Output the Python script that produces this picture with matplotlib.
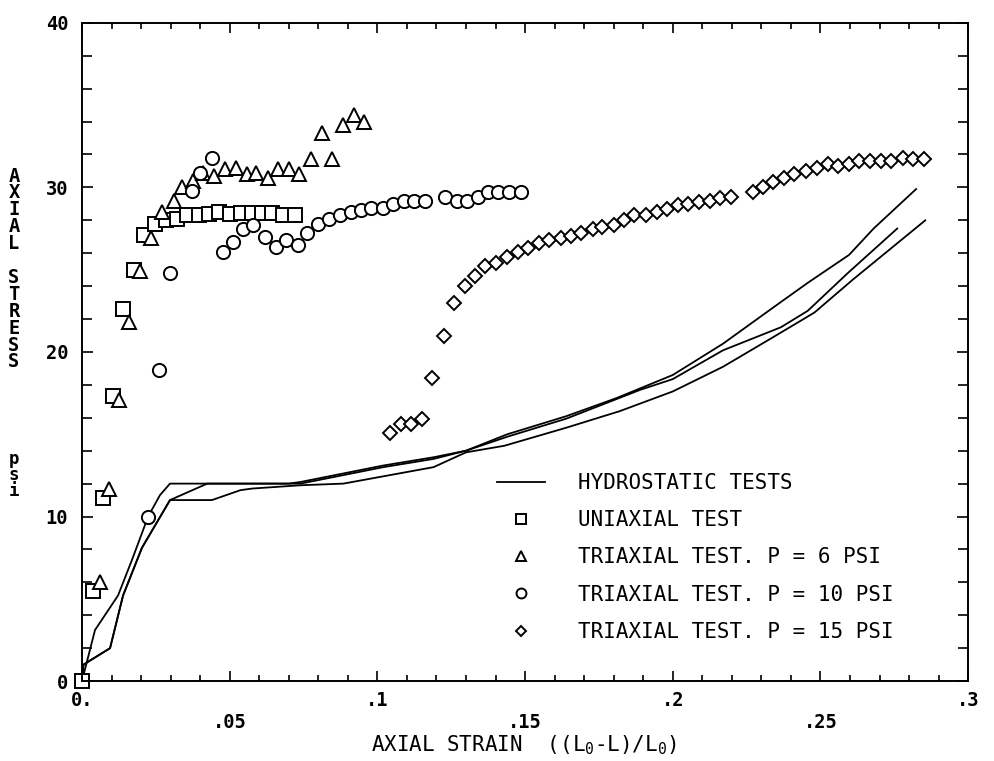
import numpy as np
import matplotlib.pyplot as plt
from matplotlib.ticker import MultipleLocator

plt.rcParams['font.family'] = ['DejaVu Sans Mono']
plt.rcParams['mathtext.fontset'] = 'custom'
plt.rcParams['mathtext.rm'] = 'DejaVu Sans Mono'
plt.rcParams['mathtext.it'] = 'DejaVu Sans Mono'

# hydrostatic tests, three runs
hyd1_strain = [0, 0.0044, 0.0122, 0.017, 0.0224, 0.0264, 0.0298, 0.05, 0.07, 0.074,
               0.102, 0.119, 0.13, 0.144, 0.164, 0.181, 0.2, 0.217, 0.234, 0.2457,
               0.2597, 0.268, 0.2824]
hyd1_stress = [0, 3.1, 5.2, 7.4, 10.0, 11.3, 12.0, 12.0, 12.0, 12.1,
               13.1, 13.6, 14.0, 15.0, 16.1, 17.2, 18.6, 20.5, 22.7, 24.2,
               25.9, 27.5, 29.9]
hyd2_strain = [0, 0.0005, 0.0095, 0.0139, 0.0203, 0.0298, 0.0424, 0.06, 0.074,
               0.102, 0.119, 0.13, 0.144, 0.164, 0.189, 0.2, 0.217, 0.2366,
               0.2457, 0.2593, 0.276]
hyd2_stress = [0, 1.0, 2.0, 5.2, 8.1, 11.0, 12.0, 12.0, 12.0,
               13.0, 13.5, 14.0, 14.85, 15.95, 17.7, 18.35, 20.1, 21.5,
               22.5, 24.8, 27.5]
hyd3_strain = [0, 0.0005, 0.0095, 0.0139, 0.0203, 0.0298, 0.044, 0.0536, 0.0576,
               0.074, 0.0885, 0.119, 0.13, 0.143, 0.164, 0.182, 0.2, 0.217, 0.234,
               0.248, 0.261, 0.2855]
hyd3_stress = [0, 1.0, 2.0, 5.2, 8.1, 11.0, 11.0, 11.6, 11.7,
               11.9, 12.0, 13.0, 13.9, 14.3, 15.4, 16.4, 17.6, 19.1, 20.9,
               22.4, 24.4, 28.0]

# uniaxial test
uni_strain = [0.0, 0.0036, 0.0071, 0.0105, 0.0139, 0.0176, 0.021, 0.0247, 0.0285,
              0.032, 0.0356, 0.0397, 0.043, 0.0464, 0.050, 0.054, 0.0576, 0.061,
              0.0644, 0.068, 0.072]
uni_stress = [0.0, 5.5, 11.1, 17.3, 22.6, 25.0, 27.1, 27.8, 28.0,
              28.1, 28.3, 28.3, 28.4, 28.5, 28.4, 28.45, 28.45, 28.45,
              28.45, 28.3, 28.3]

# triaxial, P = 6 psi
tri6_strain = [0.0061, 0.0092, 0.0125, 0.016, 0.0197, 0.0234, 0.027, 0.031, 0.034,
               0.0376, 0.041, 0.0447, 0.0485, 0.052, 0.056, 0.059, 0.063, 0.0665,
               0.070, 0.0736, 0.0776, 0.0814, 0.0847, 0.0885, 0.092, 0.0955]
tri6_stress = [6.0, 11.7, 17.1, 21.8, 24.9, 26.9, 28.5, 29.2, 30.0,
               30.4, 30.9, 30.7, 31.1, 31.2, 30.8, 30.9, 30.6, 31.1,
               31.1, 30.8, 31.7, 33.3, 31.7, 33.8, 34.4, 34.0]

# triaxial, P = 10 psi
tri10_strain = [0.0224, 0.026, 0.0298, 0.0372, 0.040, 0.044, 0.0478, 0.051, 0.0546,
                0.058, 0.062, 0.0658, 0.069, 0.073, 0.0763, 0.080, 0.0837, 0.0875,
                0.091, 0.0946, 0.098, 0.102, 0.1054, 0.109, 0.1125, 0.116, 0.123,
                0.127, 0.1305, 0.134, 0.1376, 0.141, 0.1447, 0.1485]
tri10_stress = [10.0, 18.9, 24.8, 29.8, 30.9, 31.8, 26.1, 26.7, 27.5,
                27.7, 27.0, 26.4, 26.8, 26.5, 27.2, 27.8, 28.1, 28.3,
                28.5, 28.6, 28.75, 28.75, 29.0, 29.2, 29.2, 29.2, 29.4,
                29.2, 29.2, 29.4, 29.7, 29.7, 29.7, 29.7]

# triaxial, P = 15 psi
tri15_strain = [0.1044, 0.108, 0.1115, 0.115, 0.1186, 0.1224, 0.126, 0.1295, 0.133,
                0.1366, 0.140, 0.144, 0.1475, 0.151, 0.1546, 0.158, 0.162, 0.1654,
                0.169, 0.173, 0.176, 0.180, 0.1834, 0.187, 0.191, 0.1946, 0.198,
                0.2017, 0.205, 0.209, 0.2126, 0.216, 0.2197, 0.227, 0.2305, 0.234,
                0.2377, 0.241, 0.245, 0.2488, 0.2525, 0.256, 0.2597, 0.263, 0.2668,
                0.2705, 0.274, 0.278, 0.2813, 0.285]
tri15_stress = [15.1, 15.6, 15.6, 15.9, 18.4, 21.0, 23.0, 24.0, 24.6,
                25.2, 25.4, 25.8, 26.05, 26.3, 26.6, 26.8, 26.9, 27.05,
                27.2, 27.5, 27.6, 27.7, 28.0, 28.3, 28.3, 28.5, 28.7,
                28.9, 29.0, 29.1, 29.2, 29.35, 29.4, 29.7, 30.0, 30.3,
                30.6, 30.8, 31.0, 31.2, 31.4, 31.3, 31.4, 31.6, 31.6,
                31.6, 31.6, 31.8, 31.7, 31.7]

fig = plt.figure(figsize=(9.95, 7.61), dpi=100)
ax = fig.add_axes([0.0824, 0.105, 0.8906, 0.865])

lw = 1.3
h1, = ax.plot(hyd1_strain, hyd1_stress, color='black', lw=lw)
ax.plot(hyd2_strain, hyd2_stress, color='black', lw=lw)
ax.plot(hyd3_strain, hyd3_stress, color='black', lw=lw)

mk = dict(linestyle='none', mfc='white', mec='black', mew=1.4, clip_on=False)
h2, = ax.plot(uni_strain, uni_stress, marker='s', ms=9.5, **mk)
h3, = ax.plot(tri6_strain, tri6_stress, marker='^', ms=9.5, **mk)
h4, = ax.plot(tri10_strain, tri10_stress, marker='o', ms=9.5, **mk)
h5, = ax.plot(tri15_strain, tri15_stress, marker='D', ms=7, **mk)

ax.set_xlim(0, 0.3)
ax.set_ylim(0, 40)

for s in ax.spines.values():
    s.set_linewidth(1.4)

ax.set_xticks([0, 0.05, 0.1, 0.15, 0.2, 0.25, 0.3])
ax.set_xticklabels(['0.', '\n.05', '.1', '\n.15', '.2', '\n.25', '.3'])
ax.xaxis.set_minor_locator(MultipleLocator(0.01))
ax.set_yticks([0, 10, 20, 30, 40])
ax.set_yticklabels(['0', '10', '20', '30', '40'])
ax.yaxis.set_minor_locator(MultipleLocator(2))

ax.tick_params(axis='both', which='both', direction='in', top=True, right=True,
               width=1.2, labelsize=13.5)
ax.tick_params(axis='x', which='major', length=7, pad=7)
ax.tick_params(axis='x', which='minor', length=4)
ax.tick_params(axis='y', which='major', length=8, pad=10)
ax.tick_params(axis='y', which='minor', length=7)
for lab in ax.get_xticklabels() + ax.get_yticklabels():
    lab.set_fontweight('bold')

fig.text(0.527, 0.021, r'AXIAL STRAIN  ((L$_0$-L)/L$_0$)', ha='center',
         va='center', fontsize=15)
fig.text(0.014, 0.6465, '\n'.join('AXIAL STRESS'), ha='center', va='center',
         fontsize=13.5, fontweight='bold', linespacing=0.86)
fig.text(0.014, 0.376, '\n'.join('psi'), ha='center', va='center',
         fontsize=12.5, fontweight='bold', linespacing=0.86)

ax.legend([h1, h2, h3, h4, h5],
          ['HYDROSTATIC TESTS', 'UNIAXIAL TEST', 'TRIAXIAL TEST. P = 6 PSI',
           'TRIAXIAL TEST. P = 10 PSI', 'TRIAXIAL TEST. P = 15 PSI'],
          loc='upper left', bbox_to_anchor=(0.459, 0.329), borderaxespad=0,
          frameon=False, handlelength=2.3, handletextpad=1.6, labelspacing=0.83,
          markerscale=0.75, prop=dict(size=15))

fig.savefig('out.png', dpi=100)
